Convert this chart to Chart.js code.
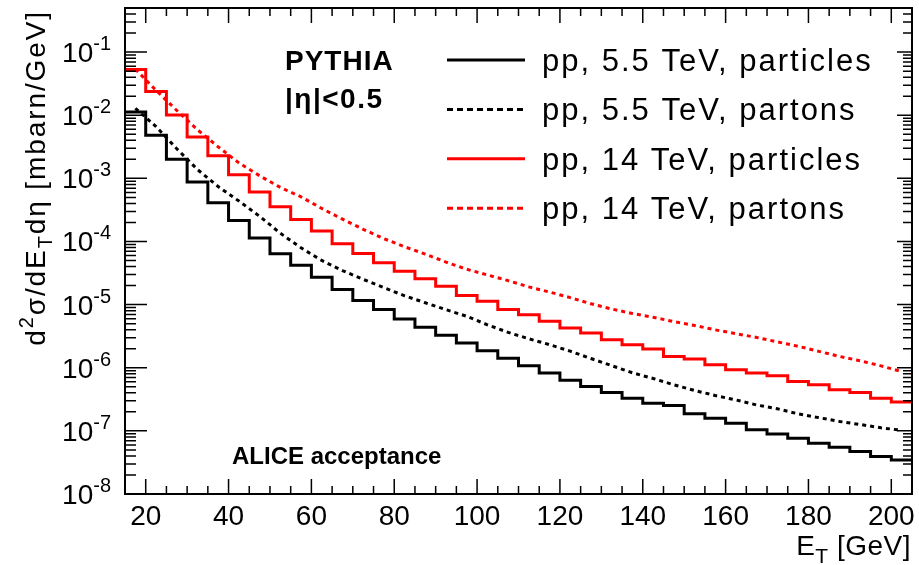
<!DOCTYPE html>
<html>
<head>
<meta charset="utf-8">
<script src="https://cdn.jsdelivr.net/npm/chart.js@4.4.1/dist/chart.umd.min.js"></script>
<style>
  html, body { margin: 0; padding: 0; background: #fff; }
  canvas { display: block; }
</style>
</head>
<body>
<canvas id="chart" width="919" height="565"></canvas>
<script>
// E_T histogram bins [GeV]
const etBinEdges = [15, 20, 25, 30, 35, 40, 45, 50, 55, 60, 65, 70, 75, 80, 85, 90, 95, 100, 105, 110,
  115, 120, 125, 130, 135, 140, 145, 150, 155, 160, 165, 170, 175, 180, 185, 190, 195, 200, 205];
const etBinCenters = [17.5, 22.5, 27.5, 32.5, 37.5, 42.5, 47.5, 52.5, 57.5, 62.5, 67.5, 72.5, 77.5,
  82.5, 87.5, 92.5, 97.5, 102.5, 107.5, 112.5, 117.5, 122.5, 127.5, 132.5, 137.5, 142.5, 147.5,
  152.5, 157.5, 162.5, 167.5, 172.5, 177.5, 182.5, 187.5, 192.5, 197.5, 202.5];

// d2sigma/dE_T deta [mbarn/GeV]
const pp55Particles = [1.13e-2, 4.82e-3, 2.00e-3, 8.73e-4, 4.11e-4, 2.15e-4, 1.14e-4, 6.38e-5,
  4.21e-5, 2.71e-5, 1.73e-5, 1.16e-5, 8.34e-6, 5.93e-6, 4.37e-6, 3.26e-6, 2.47e-6, 1.86e-6,
  1.41e-6, 1.08e-6, 8.24e-7, 6.31e-7, 5.05e-7, 4.06e-7, 3.30e-7, 2.75e-7, 2.52e-7, 1.86e-7,
  1.59e-7, 1.32e-7, 1.04e-7, 8.95e-8, 7.66e-8, 6.38e-8, 5.51e-8, 4.70e-8, 3.91e-8, 3.47e-8];
const pp55Partons = [1.29e-2, 6.61e-3, 2.95e-3, 1.38e-3, 7.41e-4, 4.37e-4, 2.51e-4, 1.35e-4,
  7.94e-5, 5.01e-5, 3.47e-5, 2.51e-5, 1.86e-5, 1.38e-5, 1.07e-5, 8.32e-6, 6.53e-6, 4.79e-6,
  3.63e-6, 2.88e-6, 2.32e-6, 1.83e-6, 1.40e-6, 1.08e-6, 8.32e-7, 6.76e-7, 5.37e-7, 4.37e-7,
  3.63e-7, 3.09e-7, 2.57e-7, 2.24e-7, 1.86e-7, 1.62e-7, 1.41e-7, 1.26e-7, 1.12e-7, 1.02e-7];
const pp14Particles = [5.31e-2, 2.38e-2, 1.01e-2, 4.53e-3, 2.29e-3, 1.14e-3, 6.07e-4, 3.56e-4,
  2.23e-4, 1.46e-4, 9.18e-5, 6.46e-5, 4.59e-5, 3.38e-5, 2.56e-5, 1.95e-5, 1.39e-5, 1.13e-5,
  8.34e-6, 6.93e-6, 5.43e-6, 4.27e-6, 3.55e-6, 2.78e-6, 2.32e-6, 1.98e-6, 1.51e-6, 1.37e-6,
  1.12e-6, 9.29e-7, 8.24e-7, 7.46e-7, 6.07e-7, 5.37e-7, 4.48e-7, 4.06e-7, 3.30e-7, 2.86e-7];
const pp14Partons = [5.37e-2, 2.48e-2, 1.19e-2, 5.89e-3, 3.16e-3, 1.76e-3, 1.10e-3, 7.19e-4,
  5.09e-4, 3.34e-4, 2.26e-4, 1.56e-4, 1.11e-4, 8.26e-5, 6.32e-5, 4.71e-5, 3.63e-5, 2.95e-5,
  2.40e-5, 1.91e-5, 1.58e-5, 1.29e-5, 1.03e-5, 8.51e-6, 7.24e-6, 6.31e-6, 5.37e-6, 4.68e-6,
  3.98e-6, 3.47e-6, 3.02e-6, 2.57e-6, 2.19e-6, 1.82e-6, 1.51e-6, 1.29e-6, 1.07e-6, 8.71e-7];

const seriesLabels = ["pp, 5.5 TeV, particles", "pp, 5.5 TeV, partons",
  "pp, 14 TeV, particles", "pp, 14 TeV, partons"];
const xTickValues = [20, 40, 60, 80, 100, 120, 140, 160, 180, 200];
const yTickExponents = [-8, -7, -6, -5, -4, -3, -2, -1];

const FONT = "'Liberation Sans', Arial, Helvetica, sans-serif";

// histogram as step line: one point per lower edge, last value repeated at the upper edge
function histPoints(values) {
  return etBinEdges.map((e, i) => ({ x: e, y: values[Math.min(i, values.length - 1)] }));
}
function curvePoints(values) {
  return etBinCenters.map((c, i) => ({ x: c, y: values[i] }));
}

// draw text made of pieces with different sizes / offsets (sub and superscripts)
function drawRich(ctx, parts, x, y, align, spacing) {
  ctx.letterSpacing = (spacing || 0) + "px";
  ctx.textAlign = "left";
  let total = 0;
  const widths = parts.map((p) => {
    ctx.font = (p.bold ? "bold " : "") + p.size + "px " + FONT;
    const w = ctx.measureText(p.text).width;
    total += w;
    return w;
  });
  let cx = align === "right" ? x - total : x;
  parts.forEach((p, i) => {
    ctx.font = (p.bold ? "bold " : "") + p.size + "px " + FONT;
    ctx.fillText(p.text, cx, y + (p.dy || 0));
    cx += widths[i];
  });
  ctx.letterSpacing = "0px";
}

const rootStyle = {
  id: "rootStyle",
  afterDatasetsDraw(chart) {
    const { ctx, chartArea: a } = chart;
    const xs = chart.scales.x;
    const ys = chart.scales.y;
    ctx.save();
    ctx.strokeStyle = "#000";
    ctx.fillStyle = "#000";
    ctx.textBaseline = "alphabetic";

    // frame
    ctx.lineWidth = 2;
    ctx.strokeRect(a.left, a.top, a.right - a.left, a.bottom - a.top);

    // x ticks, bottom and top, pointing inside
    ctx.lineWidth = 1.5;
    ctx.beginPath();
    for (let v = xTickValues[0]; v <= xTickValues[xTickValues.length - 1]; v += 5) {
      const px = xs.getPixelForValue(v);
      const len = xTickValues.includes(v) ? 15 : 8;
      ctx.moveTo(px, a.bottom);
      ctx.lineTo(px, a.bottom - len);
      ctx.moveTo(px, a.top);
      ctx.lineTo(px, a.top + len);
    }
    // y ticks, left and right
    for (let e = yTickExponents[0]; e <= yTickExponents[yTickExponents.length - 1] + 1; e++) {
      for (let k = 1; k <= 9; k++) {
        const v = k * Math.pow(10, e);
        if (v < ys.min * 0.999 || v > ys.max * 1.001) continue;
        const py = ys.getPixelForValue(v);
        ctx.moveTo(a.left, py);
        ctx.lineTo(a.left + (k === 1 ? 22 : 11), py);
        ctx.moveTo(a.right, py);
        ctx.lineTo(a.right - (k === 1 ? 15 : 9), py);
      }
    }
    ctx.stroke();

    // x tick labels
    ctx.font = "28px " + FONT;
    ctx.textAlign = "center";
    xTickValues.forEach((v) => ctx.fillText(String(v), xs.getPixelForValue(v), 525));

    // y tick labels 10^n
    yTickExponents.forEach((e) => {
      const py = ys.getPixelForValue(Math.pow(10, e));
      drawRich(ctx, [
        { text: "10", size: 28 },
        { text: String(e), size: 20, dy: -12 },
      ], 111, py + 10, "right");
    });

    // axis titles
    drawRich(ctx, [
      { text: "E", size: 28 },
      { text: "T", size: 21, dy: 8 },
      { text: " [GeV]", size: 28 },
    ], 911, 555, "right", 0.5);

    ctx.save();
    ctx.translate(45, 10);
    ctx.rotate(-Math.PI / 2);
    drawRich(ctx, [
      { text: "d", size: 28 },
      { text: "2", size: 20, dy: -12 },
      { text: "σ/dE", size: 28 },
      { text: "T", size: 20, dy: 7 },
      { text: "dη [mbarn/GeV]", size: 28 },
    ], 0, 0, "right", 1.9);
    ctx.restore();

    // annotations
    drawRich(ctx, [{ text: "PYTHIA", size: 28, bold: true }], 285, 70, "left", 1);
    drawRich(ctx, [{ text: "|η|<0.5", size: 28, bold: true }], 285, 108, "left", 1.5);
    drawRich(ctx, [{ text: "ALICE acceptance", size: 24, bold: true }], 232, 464, "left", 0);

    // legend
    chart.data.datasets.forEach((ds, i) => {
      const ly = 60 + i * 49.4;
      ctx.beginPath();
      ctx.lineWidth = ds.borderWidth;
      ctx.strokeStyle = ds.borderColor;
      ctx.setLineDash(ds.borderDash ? [6, 4] : []);
      ctx.moveTo(447, ly);
      ctx.lineTo(525, ly);
      ctx.stroke();
      ctx.setLineDash([]);
      ctx.fillStyle = "#000";
      drawRich(ctx, [{ text: ds.label, size: 31, }], 542, ly + 11, "left", 2);
    });
    ctx.restore();
  },
};

new Chart(document.getElementById("chart"), {
  type: "line",
  data: {
    datasets: [
      {
        label: seriesLabels[0],
        data: histPoints(pp55Particles),
        borderColor: "#000000",
        borderWidth: 3,
        stepped: "before",
      },
      {
        label: seriesLabels[1],
        data: curvePoints(pp55Partons),
        borderColor: "#000000",
        borderWidth: 3,
        borderDash: [4, 4],
      },
      {
        label: seriesLabels[2],
        data: histPoints(pp14Particles),
        borderColor: "#ff0000",
        borderWidth: 3,
        stepped: "before",
      },
      {
        label: seriesLabels[3],
        data: curvePoints(pp14Partons),
        borderColor: "#ff0000",
        borderWidth: 3,
        borderDash: [4, 4],
      },
    ],
  },
  options: {
    responsive: false,
    animation: false,
    devicePixelRatio: 1,
    layout: { padding: { left: 125, right: 7, top: 8, bottom: 71 } },
    elements: { point: { radius: 0 }, line: { tension: 0, fill: false } },
    plugins: {
      legend: { display: false },
      tooltip: { enabled: false },
    },
    scales: {
      x: { type: "linear", min: 15, max: 205, display: false },
      y: { type: "logarithmic", min: 1e-8, max: 0.5, display: false },
    },
  },
  plugins: [rootStyle],
});
</script>
</body>
</html>
